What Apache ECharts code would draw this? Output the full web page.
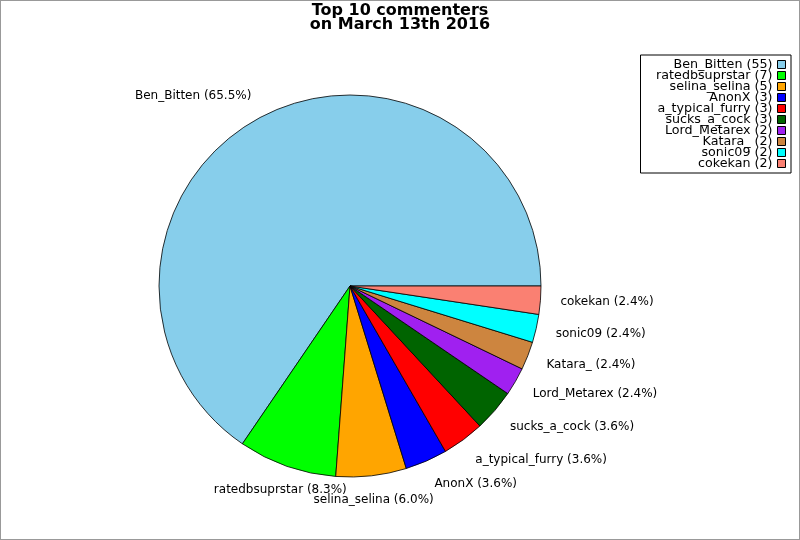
<!DOCTYPE html>
<html><head><meta charset="utf-8">
<script src="https://cdn.jsdelivr.net/npm/echarts@6/dist/echarts.min.js"></script>
<style>html,body{margin:0;padding:0;background:#fff}#c{width:798px;height:538px;border:1px solid #999}</style>
</head><body><div id="c"></div>
<script>
const names = ['Ben_Bitten','ratedbsuprstar','selina_selina','AnonX','a_typical_furry','sucks_a_cock','Lord_Metarex','Katara_','sonic09','cokekan'];
const counts = [55,7,5,3,3,3,2,2,2,2];
const colors = ['#87CEEB','#00FF00','#FFA500','#0000FF','#FF0000','#006400','#A020F0','#CD853F','#00FFFF','#FA8072'];
const titleText = 'Top 10 commenters\non March 13th 2016';

const total = counts.reduce((a,b)=>a+b,0);
// mid angle of each slice (counter-clockwise from 3 o'clock)
const midAngles = [];
let cum = 0;
counts.forEach(v=>{ midAngles.push((cum + v/2)/total*2*Math.PI); cum += v; });

const data = names.map((n,i)=>({name:n, value:counts[i], itemStyle:{color:colors[i]}}));
const chart = echarts.init(document.getElementById('c'));
chart.setOption({
  animation:false,
  backgroundColor:'#fff',
  title:{text:titleText, left:'center', top:-2,
    textStyle:{fontFamily:'DejaVu Sans', fontWeight:'bold', fontSize:16, lineHeight:14, color:'#000'}},
  legend:{orient:'vertical', right:8, top:54, align:'right', icon:'rect',
    itemWidth:8, itemHeight:8, itemGap:-2,
    borderColor:'#000', borderWidth:1, padding:[3,5,3,5], backgroundColor:'#fff',
    formatter:n=>n+' ('+counts[names.indexOf(n)]+')',
    itemStyle:{borderColor:'#000', borderWidth:1},
    textStyle:{fontFamily:'DejaVu Sans', fontSize:12.7, lineHeight:11, color:'#000', width:127, align:'right', padding:0}},
  series:[{
    type:'pie', center:[349,285], radius:191, startAngle:0, clockwise:false,
    avoidLabelOverlap:false,
    data:data,
    itemStyle:{borderColor:'#000', borderWidth:0.8},
    label:{show:true, position:'outside', distanceToLabelLine:0, fontFamily:'DejaVu Sans', fontSize:12, color:'#000',
      formatter:p=>p.name+' ('+(p.value/total*100).toFixed(1)+'%)'},
    labelLine:{show:false, length:20, length2:0},
    labelLayout:function(p){
      const a = midAngles[p.dataIndex];
      const c = Math.cos(a), s = Math.sin(a);
      const out = {dy: -s*4.5};
      if (Math.abs(c) < 0.36) {
        // near-vertical labels are centred on their anchor
        out.dx = (c < 0 ? 1 : -1) * p.labelRect.width/2;
      }
      return out;
    },
    emphasis:{disabled:true}
  }]
});
</script></body></html>
